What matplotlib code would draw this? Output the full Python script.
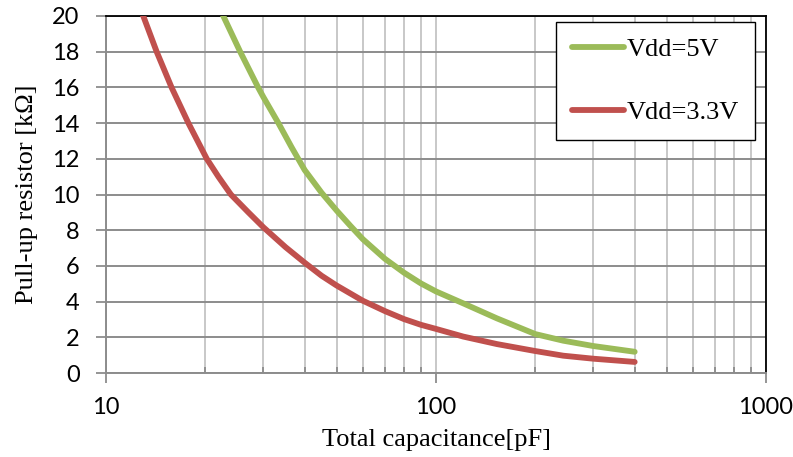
import matplotlib
matplotlib.use("Agg")
import matplotlib.pyplot as plt
from matplotlib.ticker import LogLocator, FixedLocator, NullFormatter

cap_red = [12.5, 12.97, 14.24, 15.8, 17.77, 20.2, 21.9, 23.9, 27, 30, 35, 40, 45, 50, 60,
           70, 80, 90, 100, 121, 153, 200, 243, 300, 400]
res_red = [20.6, 20.0, 18.0, 16.0, 14.0, 12.0, 11.0, 10.0, 9.0, 8.16, 7.05, 6.18, 5.45, 4.9, 4.05,
           3.47, 3.02, 2.7, 2.47, 2.04, 1.62, 1.23, 0.97, 0.8, 0.62]

cap_green = [20, 22.67, 25.5, 28.9, 30, 33.3, 36.5, 40, 45, 50, 55, 60, 70, 80, 90, 100,
             121, 153, 200, 243, 300, 400]
res_green = [22.7, 20.0, 18.0, 16.0, 15.45, 14.0, 12.65, 11.37, 10.1, 9.1, 8.25, 7.5, 6.4, 5.62, 5.02, 4.57,
             3.9, 3.06, 2.18, 1.81, 1.51, 1.19]

labels = ["Vdd=5V", "Vdd=3.3V"]
yticks = list(range(0, 21, 2))
xticks = [10, 100, 1000]

fig = plt.figure(figsize=(7.93, 4.57), dpi=100)
ax = fig.add_axes([106/793, 84/457, 660/793, 357/457])

ax.plot(cap_green, res_green, color="#9bbb59", lw=4.2, solid_capstyle="round",
        solid_joinstyle="round", label=labels[0], zorder=3)
ax.plot(cap_red, res_red, color="#c0504d", lw=4.2, solid_capstyle="round",
        solid_joinstyle="round", label=labels[1], zorder=3)

ax.set_xscale("log")
ax.set_xlim(10, 1000)
ax.set_ylim(0, 20)

ax.xaxis.set_major_locator(FixedLocator(xticks))
ax.set_xticklabels([str(v) for v in xticks])
ax.xaxis.set_minor_locator(LogLocator(base=10, subs=range(2, 10)))
ax.xaxis.set_minor_formatter(NullFormatter())
ax.set_yticks(yticks)

ax.grid(True, axis="x", which="both", color="#c4c4c4", lw=1.3, zorder=1)
ax.grid(True, axis="y", which="major", color="#8c8c8c", lw=1.4, zorder=1)

for s in ["left", "bottom"]:
    ax.spines[s].set_color("#8c8c8c")
    ax.spines[s].set_linewidth(1.4)
for s in ["top", "right"]:
    ax.spines[s].set_color("black")
    ax.spines[s].set_linewidth(1.3)

tickfont = "Lato"
ax.tick_params(axis="y", which="major", direction="out", length=7, width=1.3, color="#8c8c8c", pad=12)
ax.tick_params(axis="x", which="major", direction="out", length=7, width=1.3, color="#8c8c8c", pad=10)
ax.tick_params(axis="x", which="minor", direction="in", length=4, width=1.3, color="#8c8c8c")
for lab in ax.get_xticklabels() + ax.get_yticklabels():
    lab.set_fontfamily(tickfont)
    lab.set_fontsize(17)

ax.set_xlabel("Total capacitance[pF]", family="Liberation Serif", fontsize=19, labelpad=8)
ax.set_ylabel("Pull-up resistor [kΩ]", family="Liberation Serif", fontsize=19, labelpad=10)

leg = ax.legend(loc="upper right", bbox_to_anchor=(755/793, 435/457), bbox_transform=fig.transFigure,
                prop={"family": "Liberation Serif", "size": 19}, frameon=True, fancybox=False,
                edgecolor="black", framealpha=1, handlelength=2.0, handletextpad=0.1,
                labelspacing=1.5, borderpad=0.6, borderaxespad=0)
leg.get_frame().set_linewidth(1.0)

fig.savefig("out.png", dpi=100)
